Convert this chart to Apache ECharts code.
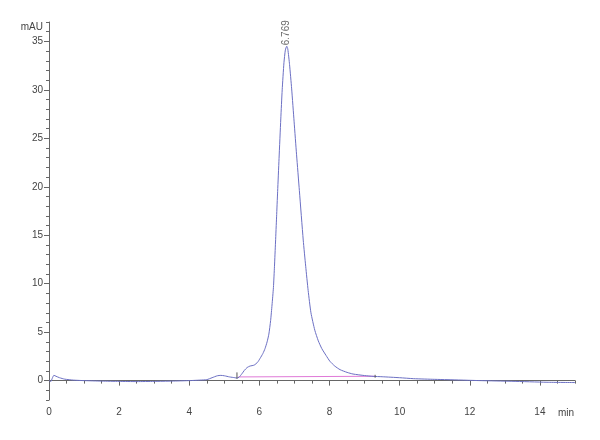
<!DOCTYPE html>
<html>
<head>
<meta charset="utf-8">
<script src="https://cdn.jsdelivr.net/npm/echarts@6/dist/echarts.min.js"></script>
<style>
html,body{margin:0;padding:0;background:#fff;}
#c{width:600px;height:440px;}
</style>
</head>
<body>
<div id="c"></div>
<script>
// Retention time (min) and absorbance (mAU)
var times = [0.00,0.05,0.10,0.14,0.20,0.30,0.45,0.70,1.00,1.50,2.00,2.50,3.00,3.50,4.00,4.30,4.50,4.65,4.80,4.90,5.00,5.15,5.30,5.36,5.42,5.50,5.57,5.65,5.73,5.85,5.95,6.02,6.10,6.16,6.22,6.27,6.32,6.36,6.40,6.43,6.46,6.49,6.52,6.56,6.61,6.65,6.70,6.74,6.78,6.81,6.86,6.92,6.99,7.06,7.14,7.25,7.32,7.39,7.47,7.58,7.68,7.78,7.90,8.01,8.15,8.30,8.50,8.67,9.00,9.24,9.50,10.00,10.40,11.00,11.35,12.30,13.20,14.20,15.00];
var signal = [0.0,-0.1,0.3,0.55,0.45,0.3,0.15,0.05,0.0,-0.05,-0.08,-0.1,-0.08,-0.05,0.0,0.05,0.1,0.3,0.5,0.54,0.5,0.38,0.3,0.26,0.35,0.7,1.05,1.35,1.5,1.6,1.9,2.3,2.8,3.3,4.0,4.8,6.2,7.8,9.6,11.8,14.3,16.9,19.5,22.9,27.0,30.0,32.8,34.1,34.5,34.2,32.6,30.1,26.7,23.3,19.6,14.5,11.8,9.3,7.0,5.2,4.1,3.3,2.6,2.0,1.5,1.13,0.85,0.68,0.52,0.44,0.4,0.3,0.2,0.13,0.1,0.0,-0.07,-0.17,-0.2];
var peakTime = 6.769;
var peakHeight = 34.5;
var baselineTimes = [5.40, 9.30];
var baselineValues = [0.38, 0.45];
var markerStart = [[5.36, 0.2],[5.36, 0.85]];
var markerEnd = [[9.30, 0.3],[9.30, 0.6]];
var xTickLabels = [0,2,4,6,8,10,12,14];
var yTickLabels = [0,5,10,15,20,25,30,35];

var curve = times.map(function(t,i){return [t, signal[i]];});
var baseline = baselineTimes.map(function(t,i){return [t, baselineValues[i]];});

var font = 'Liberation Sans';
var txt = '#444';
var axisCol = '#666';

var chart = echarts.init(document.getElementById('c'), null, {renderer:'canvas'});
chart.setOption({
  animation:false,
  backgroundColor:'#fff',
  grid:{left:49,right:25,top:22,bottom:40},
  xAxis:[{
    type:'value',min:0,max:15,
    axisLine:{show:true,lineStyle:{color:axisCol,width:1}},
    axisTick:{show:true,length:5,customValues:xTickLabels,lineStyle:{color:axisCol}},
    axisLabel:{customValues:xTickLabels,color:txt,fontFamily:font,fontSize:10,margin:7},
    splitLine:{show:false}
  },{
    type:'value',min:0,max:15,interval:0.5,position:'bottom',
    axisLine:{show:false},
    axisTick:{show:true,length:3,lineStyle:{color:axisCol}},
    axisLabel:{show:false},
    splitLine:{show:false}
  }],
  yAxis:[{
    type:'value',min:-2,max:37,
    axisLine:{show:true,lineStyle:{color:axisCol,width:1}},
    axisTick:{show:true,length:5,customValues:yTickLabels,lineStyle:{color:axisCol}},
    axisLabel:{customValues:yTickLabels,color:txt,fontFamily:font,fontSize:10,margin:6},
    splitLine:{show:false}
  },{
    type:'value',min:-2,max:37,interval:1,position:'left',
    axisLine:{show:false},
    axisTick:{show:true,length:3,lineStyle:{color:axisCol}},
    axisLabel:{show:false},
    splitLine:{show:false}
  }],
  graphic:[
    {type:'text',x:43,y:27,style:{text:'mAU',fill:txt,font:'10px "Liberation Sans"',align:'right',verticalAlign:'middle'}},
    {type:'text',x:574,y:413,style:{text:'min',fill:txt,font:'10px "Liberation Sans"',align:'right',verticalAlign:'middle'}}
  ],
  series:[
    {type:'line',data:baseline,showSymbol:false,lineStyle:{color:'#e07ad8',width:1},z:2},
    {type:'line',data:curve,showSymbol:false,smooth:0.2,lineStyle:{color:'#6c70c4',width:1},z:3},
    {type:'line',data:markerStart,showSymbol:false,lineStyle:{color:'#555',width:1},z:4},
    {type:'line',data:markerEnd,showSymbol:false,lineStyle:{color:'#555',width:1},z:4},
    {type:'scatter',data:[[peakTime,peakHeight]],symbolSize:0,z:5,
     label:{show:true,formatter:String(peakTime),rotate:90,position:'top',distance:1,align:'left',verticalAlign:'middle',
            color:'#444',fontFamily:font,fontSize:10}}
  ]
});
</script>
</body>
</html>
